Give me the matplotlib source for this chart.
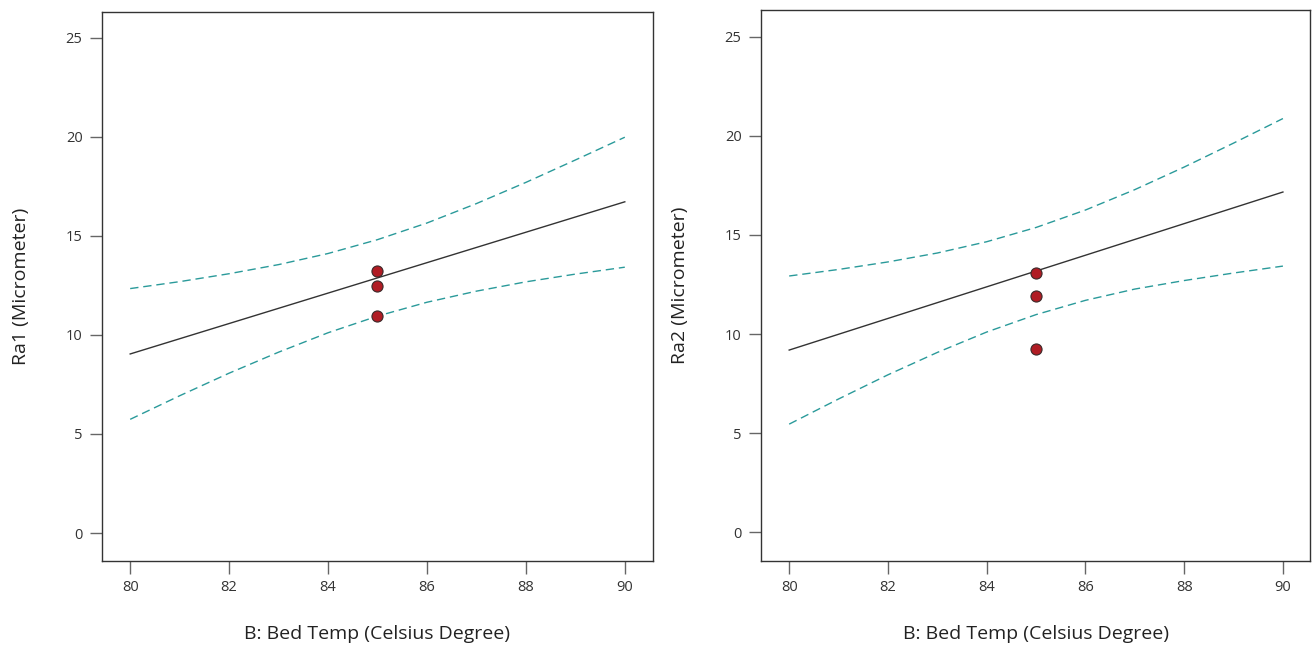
import numpy as np
import matplotlib.pyplot as plt

plt.rcParams['font.family'] = ['Open Sans', 'DejaVu Sans']

# Data
temp = [80, 81, 82, 83, 84, 85, 86, 87, 88, 89, 90]
line_x = [80, 90]

# Ra1
ra1_fit = [9.04, 16.72]
ra1_upper = [12.34, 12.69, 13.09, 13.55, 14.11, 14.81, 15.65, 16.63, 17.70, 18.83, 19.98]
ra1_lower = [5.74, 6.93, 8.07, 9.13, 10.11, 10.95, 11.65, 12.21, 12.68, 13.07, 13.42]
ra1_pts_x = [85, 85, 85]
ra1_pts_y = [13.23, 12.45, 10.98]

# Ra2
ra2_fit = [9.19, 17.17]
ra2_upper = [12.93, 13.26, 13.64, 14.09, 14.66, 15.38, 16.26, 17.29, 18.43, 19.64, 20.88]
ra2_lower = [5.45, 6.72, 7.94, 9.07, 10.10, 10.98, 11.70, 12.27, 12.70, 13.08, 13.43]
ra2_pts_x = [85, 85, 85]
ra2_pts_y = [13.07, 11.94, 9.22]

xticks = [80, 82, 84, 86, 88, 90]
yticks = [0, 5, 10, 15, 20, 25]

fig = plt.figure(figsize=(13.16, 6.46), dpi=100)
ax1 = fig.add_axes([0.0775, 0.1316, 0.4187, 0.8498])
ax2 = fig.add_axes([0.5783, 0.1316, 0.4172, 0.8529])

panels = [
    (ax1, ra1_fit, ra1_upper, ra1_lower, ra1_pts_x, ra1_pts_y, "Ra1 (Micrometer)", (-1.41, 26.3), (79.43, 90.57)),
    (ax2, ra2_fit, ra2_upper, ra2_lower, ra2_pts_x, ra2_pts_y, "Ra2 (Micrometer)", (-1.46, 26.36), (79.43, 90.55)),
]

teal = "#2a9a9a"
for ax, fit, up, lo, px, py, ylab, ylim, xlim in panels:
    ax.plot(line_x, fit, color="#333333", lw=1.0)
    ax.plot(temp, up, color=teal, lw=1.0, ls=(0, (6, 3.5)))
    ax.plot(temp, lo, color=teal, lw=1.0, ls=(0, (6, 3.5)))
    ax.plot(px, py, 'o', color="#b01c24", mec="#3a2a2a", mew=0.8, ms=8, zorder=5)

    ax.set_xlim(*xlim)
    ax.set_ylim(*ylim)
    ax.set_xticks(xticks)
    ax.set_yticks(yticks)
    ax.tick_params(direction='out', length=9, width=1, color="#666666",
                   labelsize=10.5, labelcolor="#333333", pad=5)
    for s in ax.spines.values():
        s.set_linewidth(1.0)
        s.set_color("#333333")
    ax.set_xlabel("B: Bed Temp (Celsius Degree)", fontsize=14, color="#222222", labelpad=21)
    ax.set_ylabel(ylab, fontsize=14, color="#222222", labelpad=26)

plt.savefig("out.png", dpi=100)
